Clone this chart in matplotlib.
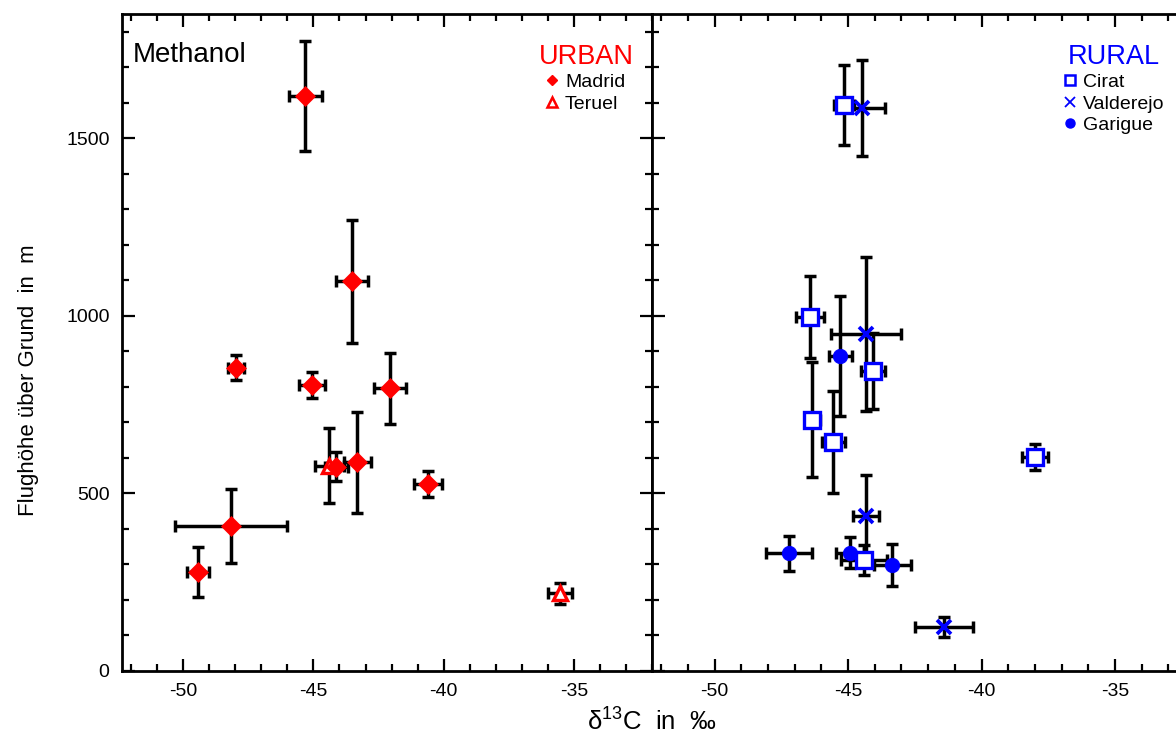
import numpy as np
import matplotlib
matplotlib.use("Agg")
import matplotlib.pyplot as plt
from matplotlib.lines import Line2D
from matplotlib.ticker import MultipleLocator

plt.rcParams['font.family'] = ['Liberation Sans', 'DejaVu Sans']
plt.rcParams['mathtext.fontset'] = 'custom'
plt.rcParams['mathtext.rm'] = 'Liberation Sans'
plt.rcParams['mathtext.it'] = 'Liberation Sans:italic'

# Methanol delta13C vs. flight altitude, urban sites
madrid_x = [-45.31, -43.51, -47.97, -45.05, -42.06, -43.31, -44.12, -40.60, -48.16, -49.43]
madrid_y = [1620, 1097, 853, 804, 795, 587, 574, 525, 408, 277]
madrid_xerr = [0.63, 0.61, 0.30, 0.50, 0.60, 0.53, 0.45, 0.52, 2.14, 0.42]
madrid_yerr = [155, 173, 35, 37, 101, 142, 41, 36, 104, 70]

teruel_x = [-44.39, -35.54]
teruel_y = [577, 217]
teruel_xerr = [0.55, 0.46]
teruel_yerr = [106, 29]

# rural sites
cirat_x = [-45.16, -46.44, -44.06, -46.35, -45.55, -38.00, -44.40]
cirat_y = [1594, 996, 844, 707, 644, 602, 311]
cirat_xerr = [0.38, 0.52, 0.44, 0.28, 0.42, 0.50, 0.86]
cirat_yerr = [113, 115, 108, 163, 145, 37, 42]

valderejo_x = [-44.47, -44.32, -44.34, -41.41]
valderejo_y = [1585, 947, 435, 123]
valderejo_xerr = [0.86, 1.31, 0.49, 1.09]
valderejo_yerr = [134, 217, 115, 28]

garigue_x = [-45.29, -47.21, -44.94, -43.34]
garigue_y = [885, 330, 332, 297]
garigue_xerr = [0.43, 0.86, 0.52, 0.68]
garigue_yerr = [169, 50, 44, 60]

xlim = (-52.35, -32.0)
ylim = (0, 1850)
xticks = [-50, -45, -40, -35]
yticks = [0, 500, 1000, 1500]

W, H = 1176, 737
fig = plt.figure(figsize=(W / 100, H / 100), dpi=100)
bot = (H - 670.5) / H
hgt = 656.5 / H
ax1 = fig.add_axes([122 / W, bot, 530 / W, hgt])
ax2 = fig.add_axes([652 / W, bot, 543 / W, hgt])

eb = dict(fmt='none', ecolor='black', elinewidth=2.5, capsize=4.5, capthick=2.5, zorder=2)


def draw(ax, x, y, xe, ye, **mk):
    ax.errorbar(x, y, xerr=xe, yerr=ye, **eb)
    ax.plot(x, y, linestyle='none', zorder=3, **mk)


draw(ax1, teruel_x, teruel_y, teruel_xerr, teruel_yerr,
     marker='^', ms=10.5, mfc='white', mec='red', mew=2.4)
draw(ax1, madrid_x, madrid_y, madrid_xerr, madrid_yerr,
     marker='D', ms=10, mfc='red', mec='red', mew=0.5)

draw(ax2, cirat_x, cirat_y, cirat_xerr, cirat_yerr,
     marker='s', ms=11, mfc='white', mec='blue', mew=2.4)
draw(ax2, valderejo_x, valderejo_y, valderejo_xerr, valderejo_yerr,
     marker='x', ms=10, mec='blue', mew=2.7)
draw(ax2, garigue_x, garigue_y, garigue_xerr, garigue_yerr,
     marker='o', ms=10.5, mfc='blue', mec='blue', mew=0.5)

for ax in (ax1, ax2):
    ax.set_xlim(*xlim)
    ax.set_ylim(*ylim)
    ax.set_xticks(xticks)
    ax.set_xticklabels([str(t) for t in xticks])
    ax.set_yticks(yticks)
    ax.xaxis.set_minor_locator(MultipleLocator(1))
    ax.yaxis.set_minor_locator(MultipleLocator(100))
    ax.tick_params(which='both', direction='in', top=True, right=True,
                   width=1.6, labelsize=14, colors='black')
    ax.tick_params(which='major', length=9, pad=9)
    ax.tick_params(which='minor', length=5)
    for s in ax.spines.values():
        s.set_linewidth(2.0)
ax2.tick_params(labelleft=False)

ax1.set_ylabel('Flughöhe über Grund  in  m', fontsize=16)
ax1.yaxis.set_label_coords(-0.157, 0.4425)
fig.text(652 / W, 1 - 722 / H, r'$\mathrm{\delta}^{13}$C  in  ‰', fontsize=18.5,
         ha='center', va='center')

ax1.text(0.021, 0.958, 'Methanol', transform=ax1.transAxes, fontsize=20,
         ha='left', va='top')

urban_h = [Line2D([], [], ls='none', marker='D', ms=5.5, mfc='red', mec='red'),
           Line2D([], [], ls='none', marker='^', ms=6.5, mfc='white', mec='red', mew=1.8)]
leg1 = ax1.legend(urban_h, ['Madrid', 'Teruel'], title='URBAN', loc='upper right',
                  bbox_to_anchor=(0.965, 0.955), frameon=False, fontsize=14,
                  handlelength=0.6, handletextpad=0.35, labelspacing=0.2,
                  borderaxespad=0, borderpad=0,
                  title_fontproperties={'size': 19.5})
leg1.get_title().set_color('red')

rural_h = [Line2D([], [], ls='none', marker='s', ms=6.5, mfc='white', mec='blue', mew=1.8),
           Line2D([], [], ls='none', marker='x', ms=6.5, mec='blue', mew=1.3),
           Line2D([], [], ls='none', marker='o', ms=6.5, mfc='blue', mec='blue')]
leg2 = ax2.legend(rural_h, ['Cirat', 'Valderejo', 'Garigue'], title='RURAL',
                  loc='upper right', bbox_to_anchor=(0.943, 0.955), frameon=False,
                  fontsize=14, handlelength=0.6, handletextpad=0.35, labelspacing=0.2,
                  borderaxespad=0, borderpad=0,
                  title_fontproperties={'size': 19.5})
leg2.get_title().set_color('blue')

fig.savefig('out.png', dpi=100)
